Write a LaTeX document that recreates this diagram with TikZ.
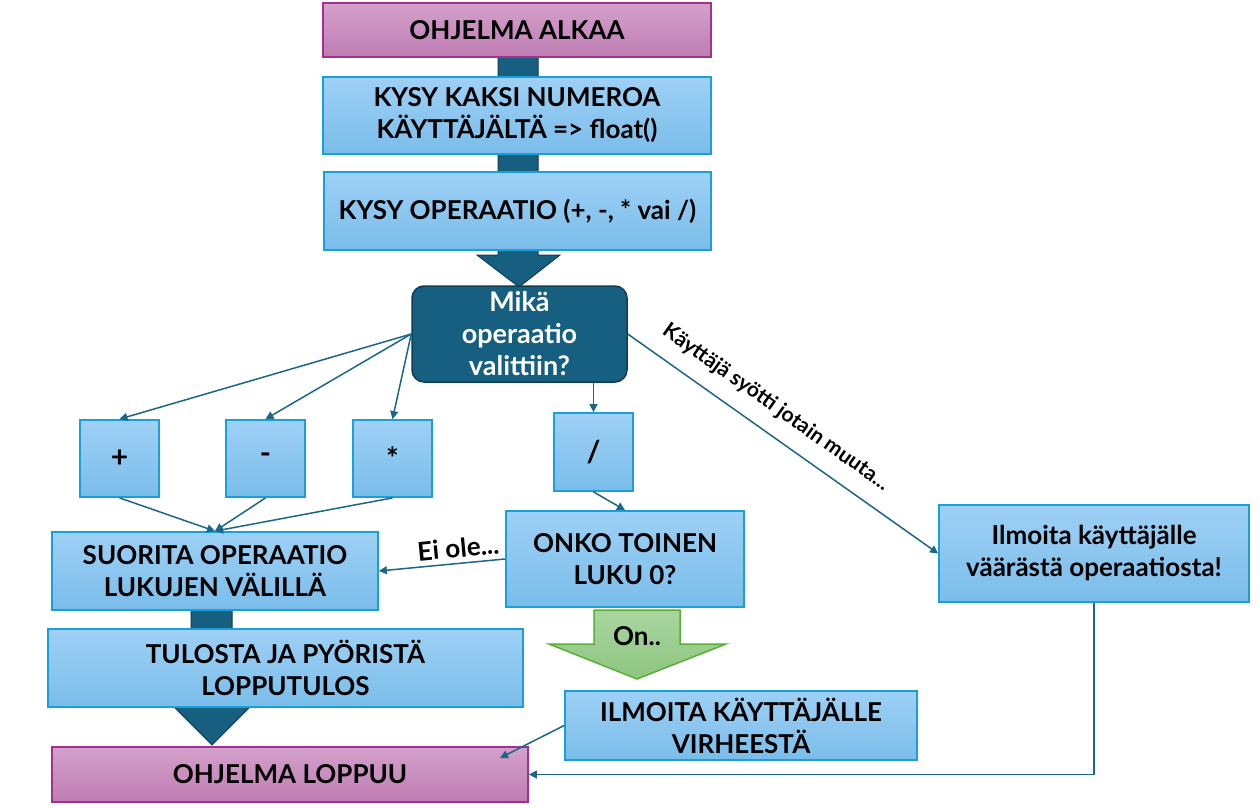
\documentclass[tikz,border=0pt]{standalone}
\usepackage{fontspec}
\setmainfont{Lato}
\usetikzlibrary{arrows.meta,calc}
\definecolor{pinkT}{HTML}{D3A0CB}
\definecolor{pinkB}{HTML}{BF7DB3}
\definecolor{pinkD}{HTML}{A2308F}
\definecolor{blueT}{HTML}{9ED0F5}
\definecolor{blueB}{HTML}{7ABDEA}
\definecolor{blueD}{HTML}{1A9FD6}
\definecolor{darkF}{HTML}{175F80}
\definecolor{darkD}{HTML}{0E3C52}
\definecolor{lineC}{HTML}{1C6687}
\definecolor{grT}{HTML}{A9D6A0}
\definecolor{grB}{HTML}{8DC57F}
\definecolor{grD}{HTML}{5AAE36}
\tikzset{
  txt/.style={font=\bfseries\fontsize{26}{32}\selectfont, align=center, inner sep=0pt},
  pinkbox/.style={txt, draw=pinkD, line width=1.8pt, top color=pinkT, bottom color=pinkB},
  bluebox/.style={txt, draw=blueD, line width=1.8pt, top color=blueT, bottom color=blueB},
  opbox/.style={bluebox, font=\bfseries\fontsize{30}{32}\selectfont, minimum width=79pt},
  decbox/.style={txt, font=\bfseries\fontsize{27}{32}\selectfont, draw=darkD, line width=1.5pt, fill=darkF, text=white, rounded corners=12pt},
  conn/.style={draw=lineC, line width=1.5pt, -{Triangle[length=8pt,width=8pt]}},
  bigarrow/.style={fill=darkF, draw=darkD, line width=1pt},
  lbl/.style={font=\bfseries, inner sep=0pt}
}
\begin{document}
\begin{tikzpicture}[x=1pt,y=-1pt]
\useasboundingbox (0,0) rectangle (1259,808);
% big arrows (behind)
\draw[bigarrow] (498,57) -- (538,57) -- (538,255) -- (560,255) -- (519,287) -- (477,255) -- (498,255) -- cycle;
\draw[bigarrow] (191,609) -- (232,609) -- (232,707) -- (250,707) -- (212,745) -- (174,707) -- (191,707) -- cycle;
% nodes
\node[pinkbox, minimum width=388pt, minimum height=54pt] (start) at (517,30) {OHJELMA ALKAA};
\node[bluebox, minimum width=388pt, minimum height=77pt] (ask1) at (517,115.5) {KYSY KAKSI NUMEROA\\KÄYTTÄJÄLTÄ => float()};
\node[bluebox, minimum width=387pt, minimum height=78pt] (ask2) at (517.5,211) {KYSY OPERAATIO (+, -, * vai /)};
\node[decbox, minimum width=215pt, minimum height=96pt] (mika) at (519.5,334) {Mikä\\operaatio\\valittiin?};
\node[opbox, minimum height=77pt] (plus) at (119.5,458.5) {+};
\node[opbox, minimum height=77pt] (minus) at (265.5,458.5) {-};
\node[opbox, minimum height=77pt] (times) at (392.5,458.5) {*};
\node[opbox, minimum height=78pt] (div) at (593.5,452) {/};
\node[bluebox, minimum width=326pt, minimum height=78pt] (suor) at (215,571) {SUORITA OPERAATIO\\LUKUJEN VÄLILLÄ};
\node[bluebox, minimum width=238pt, minimum height=96pt] (onko) at (625,559) {ONKO TOINEN\\LUKU 0?};
\node[bluebox, minimum width=310pt, minimum height=97pt] (ilm) at (1094,553.5) {Ilmoita käyttäjälle\\väärästä operaatiosta!};
\node[bluebox, minimum width=475pt, minimum height=78pt] (tulos) at (285.5,668) {TULOSTA JA PYÖRISTÄ\\LOPPUTULOS};
\node[bluebox, minimum width=352pt, minimum height=69pt] (virhe) at (741,725.5) {ILMOITA KÄYTTÄJÄLLE\\VIRHEESTÄ};
\node[pinkbox, minimum width=476pt, minimum height=55pt] (loppu) at (290,774.5) {OHJELMA LOPPUU};
% green arrow
\draw[draw=grD, line width=1.5pt, top color=grT, bottom color=grB] (594,610) -- (680,610) -- (680,644) -- (726,644) -- (637,679) -- (549,644) -- (594,644) -- cycle;
\node[lbl, font=\bfseries\fontsize{26}{30}\selectfont] (on) at (637,636) {On..};
% connectors
\draw[conn] (mika.west) -- (plus.north);
\draw[conn] (mika.west) -- (minus.north);
\draw[conn] (mika.west) -- (times.north);
\draw[conn] (mika.south -| div.north) -- (div.north);
\draw[conn] (mika.east) -- node[pos=0.43, sloped, above=15pt, lbl, font=\bfseries\fontsize{21}{24}\selectfont] {Käyttäjä syötti jotain muuta...} (ilm.west);
\draw[conn] (plus.south) -- (suor.north);
\draw[conn] (minus.south) -- (suor.north);
\draw[conn] (times.south) -- (suor.north);
\draw[conn] (div.south) -- (onko.north);
\draw[conn] (onko.west) -- node[pos=0.36, sloped, above=5pt, lbl, font=\bfseries\fontsize{26}{28}\selectfont] {Ei ole...} (suor.east);
\coordinate (vend) at (500,758);
\draw[conn] (virhe.west) -- (vend);
\draw[conn] (ilm.south) |- (loppu.east);
\end{tikzpicture}
\end{document}
